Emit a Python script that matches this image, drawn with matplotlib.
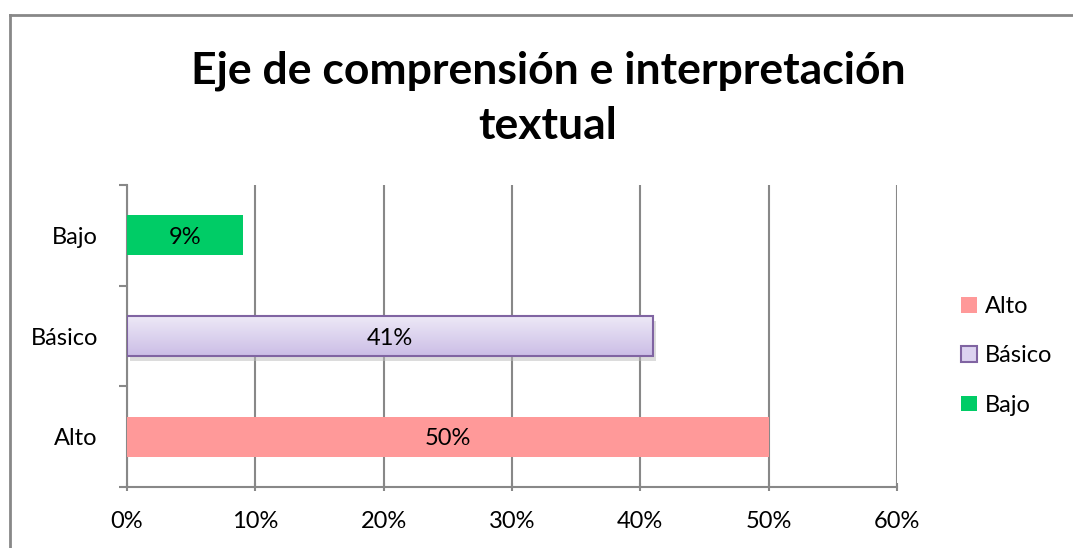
import numpy as np
import matplotlib
matplotlib.use('Agg')
import matplotlib.pyplot as plt
from matplotlib.patches import Rectangle
from matplotlib.lines import Line2D

categories = ['Alto', 'Básico', 'Bajo']
values = [50, 41, 9]
colors = ['#FF9999', '#DCD3F0', '#00CC66']
x_ticks = [0, 10, 20, 30, 40, 50, 60]

plt.rcParams['font.family'] = ['Lato', 'DejaVu Sans']

fig = plt.figure(figsize=(10.73, 5.48), dpi=100)
W, H = 1073, 548
ax = fig.add_axes([127 / W, 1 - 487 / H, (897 - 127) / W, (487 - 185) / H])

# outer frame of the chart
fig.add_artist(Line2D([9.5 / W, 9.5 / W], [0, 1 - 14.5 / H], transform=fig.transFigure,
                      color='#888888', lw=2))
fig.add_artist(Line2D([9.5 / W, 1], [1 - 14.5 / H, 1 - 14.5 / H], transform=fig.transFigure,
                      color='#888888', lw=2))

y = np.arange(len(categories))
bars = ax.barh(y, values, height=0.4, color=colors, zorder=3)

# Básico bar: gradient + border + shadow
b = bars[1]
b.set_facecolor('none')
bx, by, bw, bh = b.get_x(), b.get_y(), b.get_width(), b.get_height()
grad = np.linspace(0, 1, 100).reshape(-1, 1)
c_top = np.array([0xEE, 0xEA, 0xF7]) / 255
c_bot = np.array([0xCB, 0xBD, 0xE6]) / 255
img = c_bot + (c_top - c_bot) * grad[:, :, None]
ax.imshow(img, extent=[bx, bx + bw, by + bh, by], aspect='auto', zorder=3, origin='upper')
ax.add_patch(Rectangle((bx + 0.25, by - 0.05), bw, bh, facecolor='#bbbbbb', alpha=0.5,
                       edgecolor='none', zorder=2))
ax.add_patch(Rectangle((bx, by), bw, bh, facecolor='none', edgecolor='#8064A2', lw=1.5, zorder=4))

for i, v in enumerate(values):
    ax.text(v / 2, y[i], f'{v}%', ha='center', va='center_baseline', fontsize=17,
            color='black', zorder=5)

ax.set_xlim(0, 60)
ax.set_ylim(-0.5, 2.5)
ax.set_xticks(x_ticks)
ax.set_xticklabels([f'{t}%' for t in x_ticks], fontsize=17)
ax.set_yticks(y)
ax.set_yticklabels(categories, fontsize=17)
ax.tick_params(axis='y', length=0, pad=21)
ax.tick_params(axis='x', length=6, color='#888888', width=1.5, pad=14, direction='inout')
ax.set_yticks([-0.5, 0.5, 1.5, 2.5], minor=True)
ax.tick_params(axis='y', which='minor', length=6, color='#888888', width=1.5)
ax.grid(axis='x', color='#888888', lw=1.5, zorder=0)
ax.set_axisbelow(True)
for s in ['top', 'right']:
    ax.spines[s].set_visible(False)
for s in ['left', 'bottom']:
    ax.spines[s].set_color('#888888')
    ax.spines[s].set_linewidth(1.5)

fig.text(548 / W, 1 - 98 / H, 'Eje de comprensión e interpretación\ntextual', ha='center',
         va='center', fontsize=32, fontweight='bold', linespacing=1.45)

handles = [Rectangle((0, 0), 1, 1, facecolor=colors[0]),
           Rectangle((0, 0), 1, 1, facecolor='#DCD3F0', edgecolor='#8064A2', lw=1.5),
           Rectangle((0, 0), 1, 1, facecolor=colors[2])]
fig.legend(handles, categories, loc='center left', bbox_to_anchor=(940 / W, 1 - 356 / H),
           frameon=False, fontsize=17, handlelength=0.65, handleheight=0.65,
           handletextpad=0.35, labelspacing=1.2)

fig.savefig('out.png', dpi=100)
